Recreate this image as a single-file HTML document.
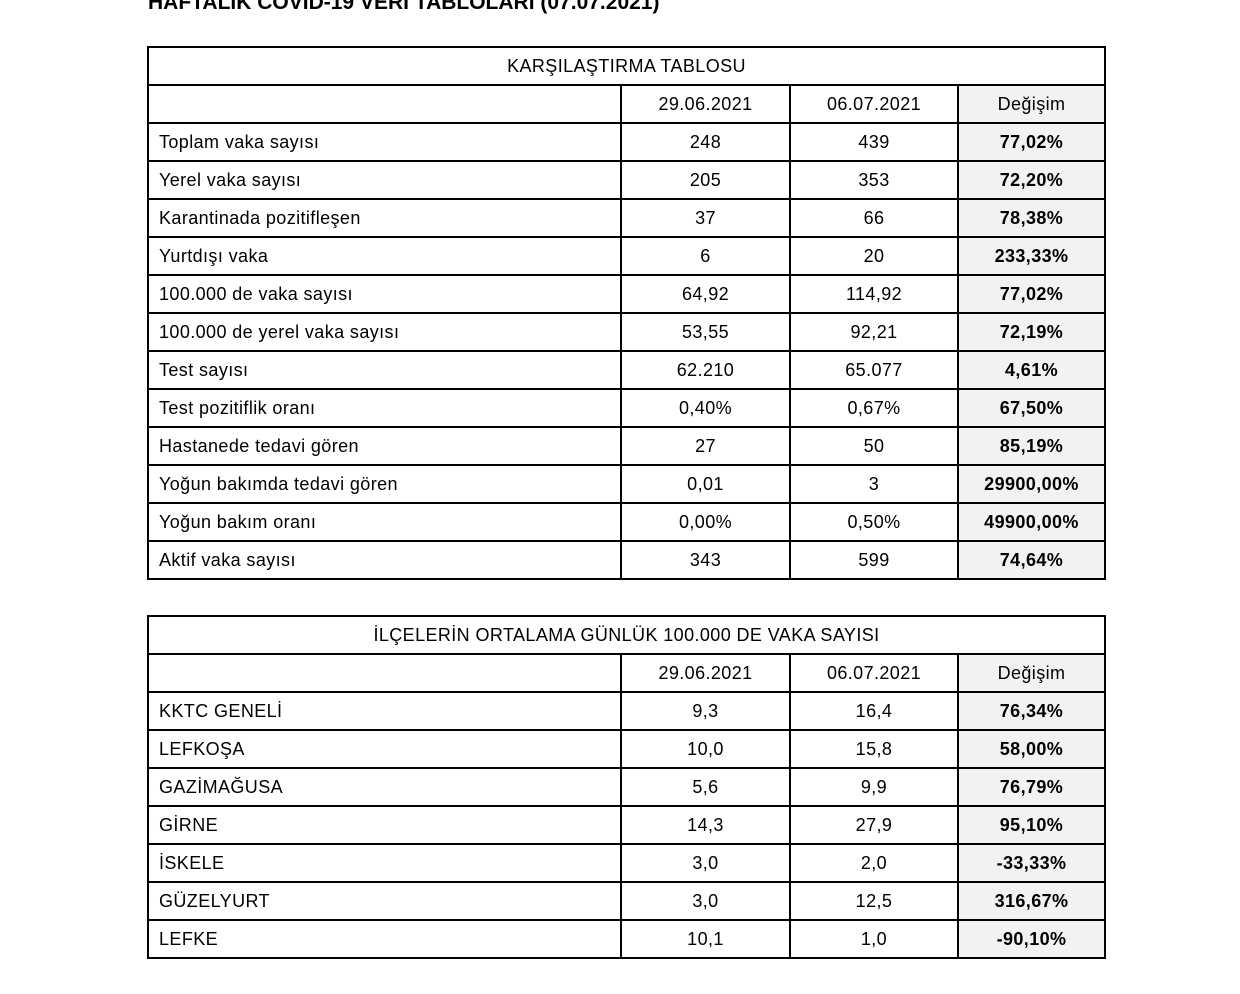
<!DOCTYPE html>
<html><head><meta charset="utf-8"><style>
body{margin:0;width:1240px;height:994px;background:#fff;position:relative;overflow:hidden;font-family:"Liberation Sans",sans-serif;color:#000}
.t{position:absolute;top:-9px;left:148px;font-weight:bold;font-size:21px;white-space:nowrap}
table{position:absolute;left:147px;border-collapse:collapse;table-layout:fixed;font-size:18px;letter-spacing:0.4px}
td{border:2px solid #000;height:36px;padding:0;text-align:center;white-space:nowrap;overflow:hidden}
td.l{text-align:left;padding-left:10px}
td.g{background:#f2f2f2}
td.b{background:#f2f2f2;font-weight:bold}
</style></head><body>
<div class="t">HAFTALIK COVID-19 VERİ TABLOLARI (07.07.2021)</div>
<table style="top:46px">
<colgroup><col style="width:473px"><col style="width:169px"><col style="width:168px"><col style="width:147px"></colgroup>
<tr><td colspan="4">KARŞILAŞTIRMA TABLOSU</td></tr>
<tr><td></td><td>29.06.2021</td><td>06.07.2021</td><td class="g">Değişim</td></tr>
<tr><td class="l">Toplam vaka sayısı</td><td>248</td><td>439</td><td class="b">77,02%</td></tr>
<tr><td class="l">Yerel vaka sayısı</td><td>205</td><td>353</td><td class="b">72,20%</td></tr>
<tr><td class="l">Karantinada pozitifleşen</td><td>37</td><td>66</td><td class="b">78,38%</td></tr>
<tr><td class="l">Yurtdışı vaka</td><td>6</td><td>20</td><td class="b">233,33%</td></tr>
<tr><td class="l">100.000 de vaka sayısı</td><td>64,92</td><td>114,92</td><td class="b">77,02%</td></tr>
<tr><td class="l">100.000 de yerel vaka sayısı</td><td>53,55</td><td>92,21</td><td class="b">72,19%</td></tr>
<tr><td class="l">Test sayısı</td><td>62.210</td><td>65.077</td><td class="b">4,61%</td></tr>
<tr><td class="l">Test pozitiflik oranı</td><td>0,40%</td><td>0,67%</td><td class="b">67,50%</td></tr>
<tr><td class="l">Hastanede tedavi gören</td><td>27</td><td>50</td><td class="b">85,19%</td></tr>
<tr><td class="l">Yoğun bakımda tedavi gören</td><td>0,01</td><td>3</td><td class="b">29900,00%</td></tr>
<tr><td class="l">Yoğun bakım oranı</td><td>0,00%</td><td>0,50%</td><td class="b">49900,00%</td></tr>
<tr><td class="l">Aktif vaka sayısı</td><td>343</td><td>599</td><td class="b">74,64%</td></tr>
</table>
<table style="top:615px">
<colgroup><col style="width:473px"><col style="width:169px"><col style="width:168px"><col style="width:147px"></colgroup>
<tr><td colspan="4">İLÇELERİN ORTALAMA GÜNLÜK 100.000 DE VAKA SAYISI</td></tr>
<tr><td></td><td>29.06.2021</td><td>06.07.2021</td><td class="g">Değişim</td></tr>
<tr><td class="l">KKTC GENELİ</td><td>9,3</td><td>16,4</td><td class="b">76,34%</td></tr>
<tr><td class="l">LEFKOŞA</td><td>10,0</td><td>15,8</td><td class="b">58,00%</td></tr>
<tr><td class="l">GAZİMAĞUSA</td><td>5,6</td><td>9,9</td><td class="b">76,79%</td></tr>
<tr><td class="l">GİRNE</td><td>14,3</td><td>27,9</td><td class="b">95,10%</td></tr>
<tr><td class="l">İSKELE</td><td>3,0</td><td>2,0</td><td class="b">-33,33%</td></tr>
<tr><td class="l">GÜZELYURT</td><td>3,0</td><td>12,5</td><td class="b">316,67%</td></tr>
<tr><td class="l">LEFKE</td><td>10,1</td><td>1,0</td><td class="b">-90,10%</td></tr>
</table>
</body></html>
